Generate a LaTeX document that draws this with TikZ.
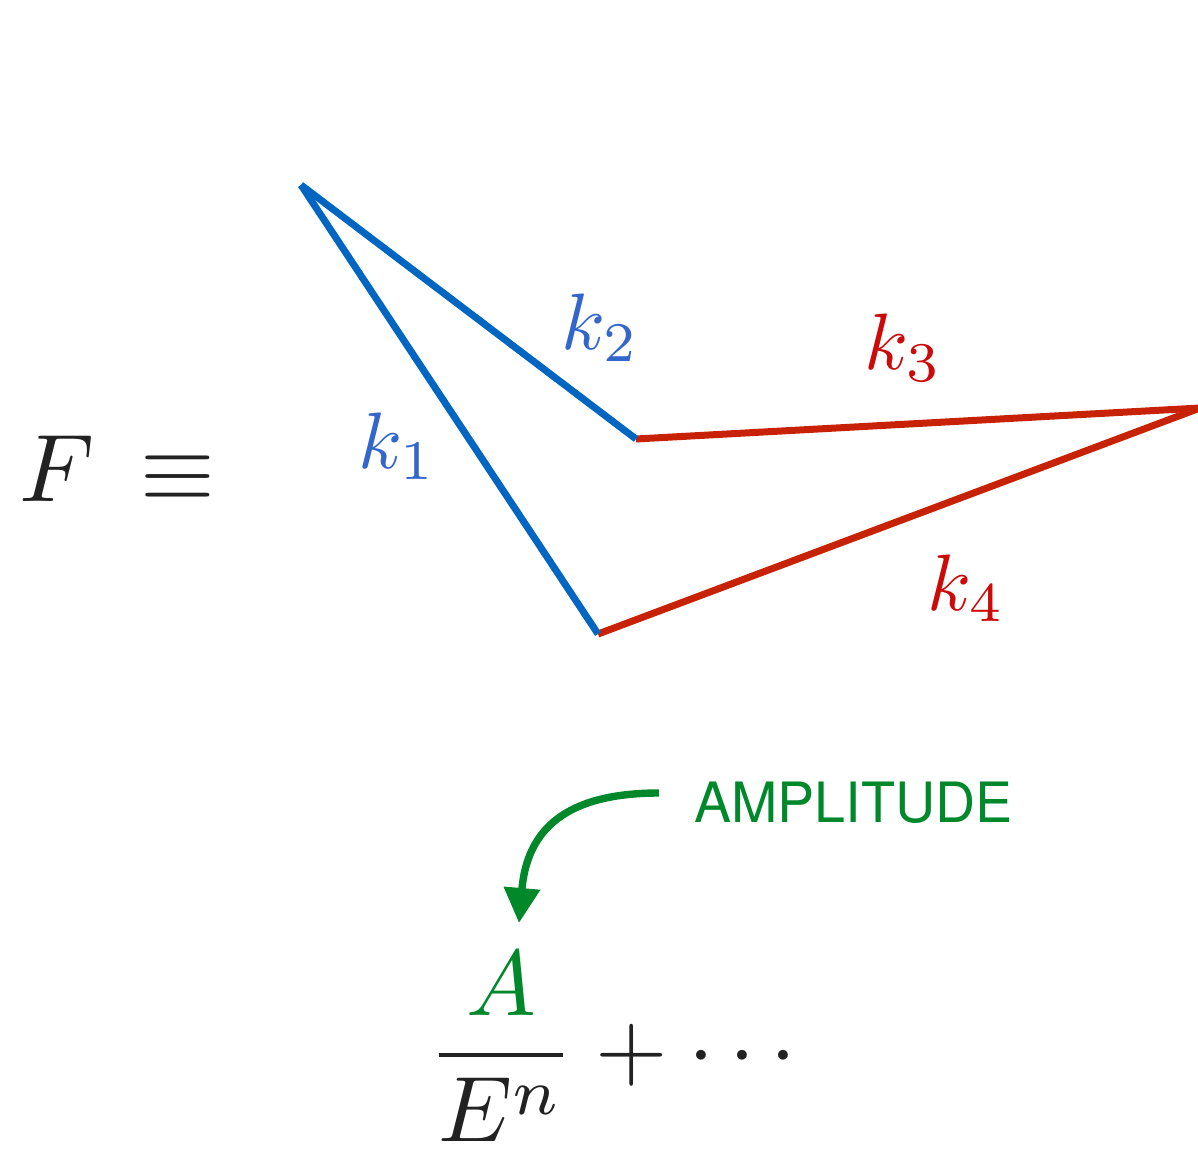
\documentclass[tikz,border=0pt]{standalone}
\usepackage{graphicx}
\usepackage{fontspec}
\newfontfamily\heros{TeX Gyre Heros}
\usetikzlibrary{arrows.meta}
\definecolor{lineblue}{HTML}{0066C2}
\definecolor{labblue}{HTML}{3366CC}
\definecolor{linered}{HTML}{C82206}
\definecolor{labred}{HTML}{CC0A0A}
\definecolor{agreen}{HTML}{00882B}
\definecolor{ink}{HTML}{222222}
\newcommand{\myBigScale}[1]{\scalebox{4.8}{#1}}
\newcommand{\myFracScale}[1]{\scalebox{4.65}{#1}}
\newcommand{\myKScale}[1]{\scalebox{4.0}{#1}}
\tikzset{
  bigmath/.style={inner sep=0pt, anchor=base west, text=ink},
  klab/.style={inner sep=0pt, anchor=base west},
  bluepath/.style={draw=lineblue, line width=3.5pt, line cap=butt},
  redpath/.style={draw=linered, line width=3.5pt, line cap=butt},
  amparrow/.style={draw=agreen, line width=3.7pt, -{Triangle[width=17.5pt,length=17.5pt]}},
}
\begin{document}
\begin{tikzpicture}[x=0.5pt,y=-0.5pt]
\useasboundingbox (0,0) rectangle (1198,1149);
\coordinate (top) at (301,185);
\coordinate (b) at (636,439);
\coordinate (c) at (598,634);
\coordinate (r) at (1200,408);
\draw[redpath] (b) -- (r);
\draw[redpath] (r) -- (c);
\draw[bluepath] (top) -- (c);
\draw[bluepath] (top) -- (b);
\node[bigmath] (F) at (19,502) {\myBigScale{$F$}};
\node[bigmath] (eq) at (140,501) {\myBigScale{$\equiv$}};
\node[klab, text=labblue] (k1) at (358,468) {\myKScale{$k_1$}};
\node[klab, text=labblue] (k2) at (561,350) {\myKScale{$k_2$}};
\node[klab, text=labred] (k3) at (864,370) {\myKScale{$k_3$}};
\node[klab, text=labred] (k4) at (927,610) {\myKScale{$k_4$}};
\node[inner sep=0pt, anchor=base west, text=agreen, font=\heros\fontsize{27.8}{34}\selectfont] (amp) at (694,822) {AMPLITUDE};
\node[bigmath] (frac) at (427,1078) {\myFracScale{$\displaystyle\frac{\color{agreen}A}{E^n}+\cdots$}};
\coordinate (tip) at (519,923);
\coordinate (start) at (659,793);
\draw[amparrow] (start) .. controls (565,793) and (527,830) .. (tip);
\end{tikzpicture}
\end{document}
